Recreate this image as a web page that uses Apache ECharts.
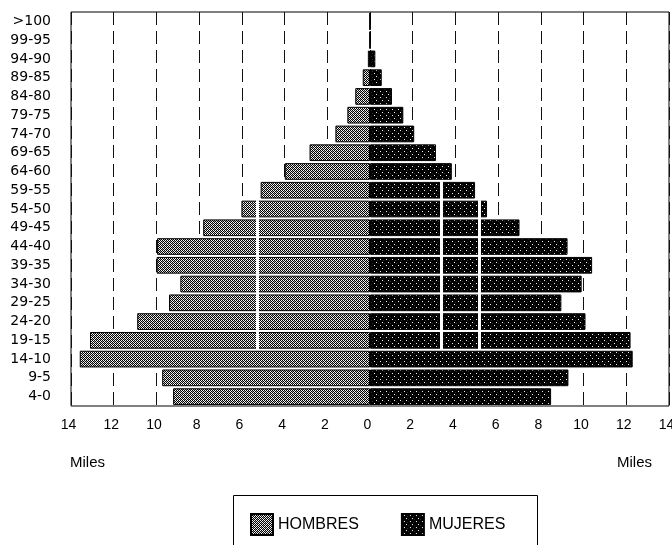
<!DOCTYPE html>
<html>
<head>
<meta charset="utf-8">
<script src="https://cdn.jsdelivr.net/npm/echarts@6/dist/echarts.min.js"></script>
<style>
html,body{margin:0;padding:0;background:#fff;}
#chart{width:672px;height:545px;}
</style>
</head>
<body>
<div id="chart"></div>
<script>
// ---- Data (thousands, "Miles") ----
var ageGroups = ['>100','99-95','94-90','89-85','84-80','79-75','74-70','69-65','64-60','59-55','54-50','49-45','44-40','39-35','34-30','29-25','24-20','19-15','14-10','9-5','4-0'];
var hombres = [0, 0, 0.1, 0.34, 0.69, 1.06, 1.62, 2.83, 3.99, 5.12, 6.02, 7.81, 9.97, 9.99, 8.88, 9.41, 10.9, 13.11, 13.59, 9.73, 9.22];
var mujeres = [0, 0, 0.25, 0.55, 1.03, 1.56, 2.07, 3.09, 3.83, 4.92, 5.48, 7.0, 9.25, 10.4, 9.91, 8.96, 10.09, 12.2, 12.3, 9.29, 8.48];
var xTicks = [-14,-12,-10,-8,-6,-4,-2,0,2,4,6,8,10,12,14];
// white seams crossing the bars in the original print: x value, first and last age group
var seams = [
  {x: -5.28, from: '54-50', to: '19-15'},
  {x: 3.34, from: '59-55', to: '19-15'},
  {x: 5.12, from: '54-50', to: '19-15'}
];

function makePattern(rows, palette){
  var c = document.createElement('canvas');
  c.width = rows[0].length; c.height = rows.length;
  var ctx = c.getContext('2d');
  for (var y = 0; y < rows.length; y++) {
    for (var x = 0; x < rows[y].length; x++) {
      ctx.fillStyle = palette[rows[y][x]];
      ctx.fillRect(x, y, 1, 1);
    }
  }
  return {image: c, repeat: 'repeat'};
}
var pal = {b:'#000000', w:'#f4f4f4', g:'#9a9a9a', d:'#2a2a2a'};
var hombresFill = makePattern(['bwbw','wbgb','bwbw','gbwb'], pal);
var mujeresFill = makePattern(['bbbbbb','bbwbbb','bbbbbd','bbbbbb','bbbbwb','dbbbbb'], pal);

var seamData = seams.map(function(s){
  var i0 = ageGroups.indexOf(s.from), i1 = ageGroups.indexOf(s.to);
  return [{coord:[s.x, i0 + 0.03]}, {coord:[s.x, i1 + 0.97]}];
});

var chart = echarts.init(document.getElementById('chart'), null, {renderer:'canvas'});
var font = '"Liberation Sans", Arial, sans-serif';
chart.setOption({
  animation: false,
  backgroundColor: '#fff',
  grid: {left: 71, right: 3, top: 12, bottom: 139, show: true, borderColor: '#000', borderWidth: 1,
    backgroundColor: 'transparent', containLabel: false, outerBoundsMode: 'none'},
  xAxis: {
    type: 'value', min: xTicks[0], max: xTicks[xTicks.length-1], interval: 2,
    axisLine: {show: false}, axisTick: {show: false},
    splitLine: {show: true, lineStyle: {color: '#111', width: 1, type: [13, 6]}},
    axisLabel: {color: '#000', fontSize: 14, fontFamily: font, margin: 12, padding: [0, 5, 0, 0],
      formatter: function(v){ return String(Math.abs(v)); }}
  },
  yAxis: [{
    type: 'category', data: ageGroups, inverse: true,
    axisLine: {show: false}, axisTick: {show: false}, splitLine: {show: false},
    axisLabel: {color: '#000', fontSize: 14, fontFamily: '"DejaVu Sans", sans-serif', margin: 20}
  }, {
    type: 'value', min: 0, max: ageGroups.length, inverse: true, show: false
  }],
  legend: {
    left: 245, top: 508, itemWidth: 22, itemHeight: 21, itemGap: 42, icon: 'rect',
    textStyle: {color: '#000', fontSize: 16, fontFamily: font},
    data: ['HOMBRES', 'MUJERES']
  },
  series: [{
    name: 'HOMBRES', type: 'bar', barGap: '-100%', barCategoryGap: '11%',
    itemStyle: {color: hombresFill, borderColor: '#000', borderWidth: 1},
    data: hombres.map(function(v){ return -v; })
  }, {
    name: 'MUJERES', type: 'bar', barGap: '-100%', barCategoryGap: '11%',
    itemStyle: {color: mujeresFill, borderColor: '#000', borderWidth: 1},
    data: mujeres
  }, {
    name: 'seams', type: 'line', xAxisIndex: 0, yAxisIndex: 1, z: 5,
    data: [], showSymbol: false,
    markLine: {silent: true, symbol: ['none','none'], label: {show: false},
      lineStyle: {color: '#fff', width: 3, type: 'solid'}, data: seamData}
  }],
  graphic: [
    {type: 'text', left: 70, top: 455, style: {text: 'Miles', fill: '#000', font: '15px ' + font}},
    {type: 'text', left: 617, top: 455, style: {text: 'Miles', fill: '#000', font: '15px ' + font}},
    {type: 'rect', shape: {x: 233.5, y: 495.5, width: 304, height: 80}, style: {fill: 'none', stroke: '#000', lineWidth: 1}}
  ]
});
</script>
</body>
</html>
